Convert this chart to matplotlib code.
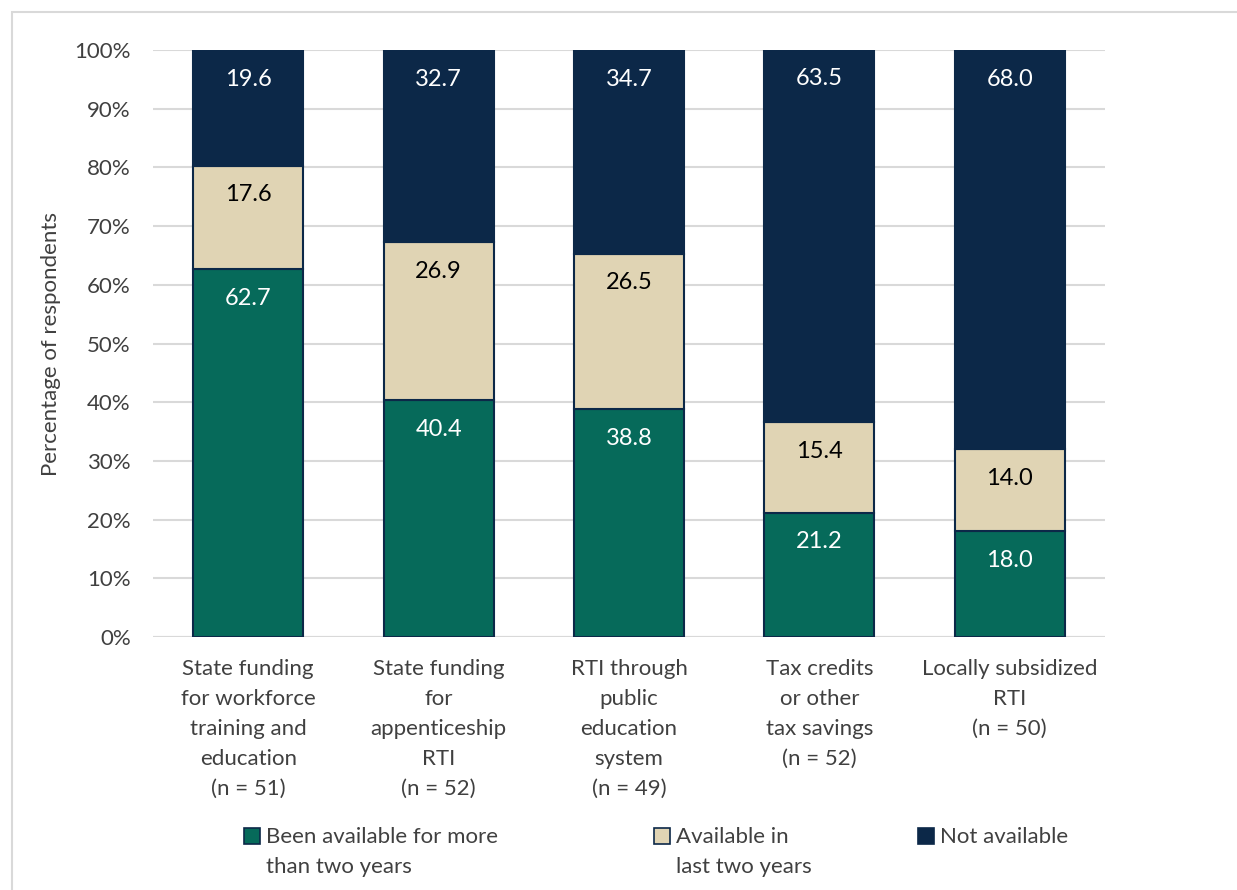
import numpy as np
import matplotlib
matplotlib.use("Agg")
import matplotlib.pyplot as plt
from matplotlib.patches import Rectangle

categories = [
    "State funding\nfor workforce\ntraining and\neducation\n(n = 51)",
    "State funding\nfor\nappenticeship\nRTI\n(n = 52)",
    "RTI through\npublic\neducation\nsystem\n(n = 49)",
    "Tax credits\nor other\ntax savings\n(n = 52)",
    "Locally subsidized\nRTI\n(n = 50)",
]
more_than_two = [62.7, 40.4, 38.8, 21.2, 18.0]
last_two = [17.6, 26.9, 26.5, 15.4, 14.0]
not_available = [19.6, 32.7, 34.7, 63.5, 68.0]
series_names = ["Been available for more\nthan two years",
                "Available in\nlast two years",
                "Not available"]

GREEN = "#066a5a"
BEIGE = "#e0d4b4"
NAVY = "#0c2848"
GRID = "#d9d9d9"
TICK = "#404040"

plt.rcParams["font.family"] = ["Lato", "DejaVu Sans"]

W, H = 1237, 890
fig = plt.figure(figsize=(W / 100, H / 100), dpi=100)
ax = fig.add_axes([153 / W, 1 - 637 / H, (1105 - 153) / W, (637 - 50) / H])

x = np.arange(len(categories))
width = 0.578
series = [more_than_two, last_two, not_available]
colors = [GREEN, BEIGE, NAVY]
text_colors = ["white", "black", "white"]

bottom = np.zeros(len(categories))
for vals, col, tcol in zip(series, colors, text_colors):
    vals = np.array(vals)
    ax.bar(x, vals, width, bottom=bottom, color=col, edgecolor=NAVY,
           linewidth=1.5, zorder=3)
    for xi, b, v in zip(x, bottom, vals):
        ax.annotate(f"{v:.1f}", (xi, b + v), xytext=(0, -21),
                    textcoords="offset points", ha="center", va="center",
                    color=tcol, fontsize=17, zorder=4,
                    annotation_clip=False)
    bottom += vals

ax.set_xlim(-0.5, len(categories) - 0.5)
ax.set_ylim(0, 100)
ax.set_yticks(np.arange(0, 101, 10))
ax.set_yticklabels([f"{v}%" for v in range(0, 101, 10)])
ax.set_xticks(x)
ax.set_xticklabels(categories, linespacing=1.62)
ax.yaxis.grid(True, color=GRID, linewidth=1.5, zorder=0)
ax.tick_params(axis="both", length=0, labelsize=16, labelcolor=TICK)
ax.tick_params(axis="y", pad=16)
ax.tick_params(axis="x", pad=16)
for s in ax.spines.values():
    s.set_visible(False)
ax.axhline(0, color=GRID, linewidth=1.5, zorder=1)
ax.set_ylabel("Percentage of respondents", fontsize=16, color=TICK)
ax.yaxis.set_label_coords(-92 / (1105 - 153), 0.5)

# legend drawn by hand so the swatch sits on the first text line
leg_x = [244, 654, 918]
for lx, name, col in zip(leg_x, series_names, colors):
    fig.patches.append(Rectangle((lx / W, 1 - 844 / H), 16 / W, 16 / H,
                                 transform=fig.transFigure, facecolor=col,
                                 edgecolor=NAVY, linewidth=1.2))
    fig.text((lx + 22) / W, 1 - 827 / H, name, fontsize=16, color=TICK,
             va="top", linespacing=1.62,
             transform=fig.transFigure)

# outer chart border
fig.patches.append(Rectangle((12 / W, -0.01), 1.1, 1 - 12 / H + 0.01,
                             transform=fig.transFigure, fill=False,
                             edgecolor=GRID, linewidth=1.5))

fig.savefig("out.png", dpi=100)
